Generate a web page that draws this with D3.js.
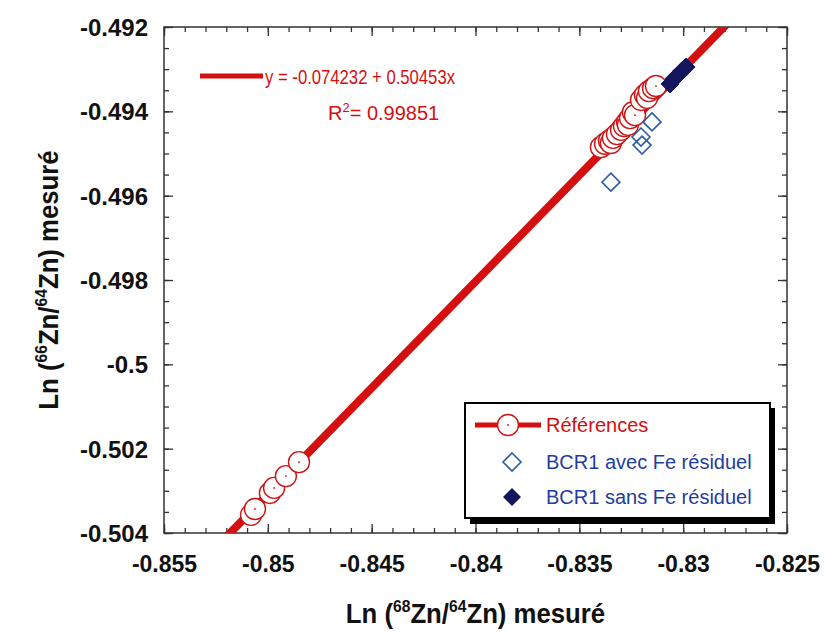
<!DOCTYPE html>
<html><head><meta charset="utf-8">
<script src="https://cdn.jsdelivr.net/npm/d3@7"></script>
<style>html,body{margin:0;padding:0;background:#fff}svg{display:block}text{font-family:"Liberation Sans",Arial,sans-serif}</style>
</head><body>
<script>
// ---- data ----
const refX = [-0.85081,-0.85062,-0.84990,-0.84970,-0.84913,-0.84850,
  -0.83396,-0.83376,-0.83357,-0.83348,-0.83338,-0.83319,-0.83299,-0.83285,-0.83270,-0.83266,-0.83256,-0.83242,-0.83232,-0.83203,-0.83184,-0.83174,-0.83165,-0.83145,-0.83131];
const refY = [-0.50357,-0.50343,-0.50305,-0.50293,-0.50265,-0.50232,
  -0.49485,-0.49477,-0.49470,-0.49475,-0.49463,-0.49454,-0.49444,-0.49435,-0.49425,-0.49432,-0.49416,-0.49402,-0.49409,-0.49373,-0.49361,-0.49368,-0.49352,-0.49345,-0.49340];
const bcrFeX = [-0.83150,-0.83203,-0.83198,-0.83348];
const bcrFeY = [-0.49425,-0.49461,-0.49480,-0.49568];
const bcrNoFeX = [-0.83063,-0.83044,-0.83025,-0.83006,-0.82986];
const bcrNoFeY = [-0.49335,-0.49323,-0.49314,-0.49304,-0.49295];
const fitIntercept = -0.074232, fitSlope = 0.50453;
const xTicks = [-0.855,-0.85,-0.845,-0.84,-0.835,-0.83,-0.825];
const xTickLabels = ["-0.855","-0.85","-0.845","-0.84","-0.835","-0.83","-0.825"];
const yTicks = [-0.492,-0.494,-0.496,-0.498,-0.5,-0.502,-0.504];
const yTickLabels = ["-0.492","-0.494","-0.496","-0.498","-0.5","-0.502","-0.504"];
const xMinor = d3.range(0,31).map(i => -0.855 + i*0.001);
const yMinor = d3.range(0,25).map(i => -0.504 + i*0.0005);
const legendLabels = ["Références","BCR1 avec Fe résiduel","BCR1 sans Fe résiduel"];

// ---- layout ----
const W = 827, H = 639;
const L = 164, R = 787, T = 27, B = 533;
const RED = "#d40f0f", CIRC = "#cc1616", BLUE = "#2d5cab", NAVY = "#15175e", TXTBLUE = "#1f3d9e";

const svg = d3.select("body").append("svg").attr("width", W).attr("height", H);
const x = d3.scaleLinear().domain([-0.855,-0.825]).range([L,R]);
const y = d3.scaleLinear().domain([-0.504,-0.492]).range([B,T]);

svg.append("clipPath").attr("id","plotclip").append("rect")
  .attr("x",L).attr("y",T).attr("width",R-L).attr("height",B-T);

// axes (ticks inward on all sides)
function styleAxis(g){ g.select(".domain").remove(); g.selectAll(".tick line").attr("stroke","#333").attr("stroke-width",1.3); }
const yfmt = d => yTickLabels[yTicks.indexOf(d)];
const xfmt = d => xTickLabels[xTicks.indexOf(d)];
svg.append("g").attr("transform",`translate(0,${B})`).call(d3.axisBottom(x).tickValues(xMinor).tickSize(-5).tickFormat("")).call(styleAxis);
svg.append("g").attr("transform",`translate(0,${T})`).call(d3.axisTop(x).tickValues(xMinor).tickSize(-5).tickFormat("")).call(styleAxis);
svg.append("g").attr("transform",`translate(${L},0)`).call(d3.axisLeft(y).tickValues(yMinor).tickSize(-5).tickFormat("")).call(styleAxis);
svg.append("g").attr("transform",`translate(${R},0)`).call(d3.axisRight(y).tickValues(yMinor).tickSize(-5).tickFormat("")).call(styleAxis);
const xb = svg.append("g").attr("transform",`translate(0,${B})`).call(d3.axisBottom(x).tickValues(xTicks).tickSize(-9).tickFormat(xfmt)).call(styleAxis);
xb.selectAll("text").attr("y",39).attr("dy",null).attr("fill","#111").attr("font-size",23).attr("font-weight","bold").attr("font-family","Liberation Sans, Arial");
svg.append("g").attr("transform",`translate(0,${T})`).call(d3.axisTop(x).tickValues(xTicks).tickSize(-9).tickFormat("")).call(styleAxis);
const yl = svg.append("g").attr("transform",`translate(${L},0)`).call(d3.axisLeft(y).tickValues(yTicks).tickSize(-9).tickFormat(yfmt)).call(styleAxis);
yl.selectAll("text").attr("x",-16).attr("dy","0.35em").attr("fill","#111").attr("font-size",24).attr("font-weight","bold").attr("font-family","Liberation Sans, Arial");
svg.append("g").attr("transform",`translate(${R},0)`).call(d3.axisRight(y).tickValues(yTicks).tickSize(-9).tickFormat("")).call(styleAxis);

// frame
svg.append("rect").attr("x",L).attr("y",T).attr("width",R-L).attr("height",B-T)
  .attr("fill","none").attr("stroke","#333").attr("stroke-width",1.5);

// regression line
const plot = svg.append("g").attr("clip-path","url(#plotclip)");
const fitXs = [-0.855,-0.825];
plot.append("line")
  .attr("x1",x(fitXs[0])).attr("y1",y(fitIntercept+fitSlope*fitXs[0]))
  .attr("x2",x(fitXs[1])).attr("y2",y(fitIntercept+fitSlope*fitXs[1]))
  .attr("stroke",RED).attr("stroke-width",8);

// reference circles
const refs = refX.map((v,i)=>({x:v,y:refY[i]}));
const cg = plot.append("g");
refs.forEach(d=>{
  cg.append("circle").attr("cx",x(d.x)).attr("cy",y(d.y)).attr("r",10.5)
    .attr("fill","#fff").attr("stroke",CIRC).attr("stroke-width",1.4);
  cg.append("circle").attr("cx",x(d.x)).attr("cy",y(d.y)).attr("r",0.9).attr("fill",CIRC);
});

const dia = s => `M0,${-s}L${s},0L0,${s}L${-s},0Z`;
bcrFeX.forEach((v,i)=>{
  plot.append("path").attr("d",dia(9)).attr("transform",`translate(${x(v)},${y(bcrFeY[i])})`)
    .attr("fill","none").attr("stroke",BLUE).attr("stroke-width",1.6);
});
bcrNoFeX.forEach((v,i)=>{
  plot.append("path").attr("d",dia(9)).attr("transform",`translate(${x(v)},${y(bcrNoFeY[i])})`)
    .attr("fill",NAVY).attr("stroke",NAVY).attr("stroke-width",1);
});

// equation
svg.append("line").attr("x1",200).attr("x2",263).attr("y1",76).attr("y2",76).attr("stroke",RED).attr("stroke-width",5);
svg.append("text").attr("x",265).attr("y",84).attr("font-size",21).attr("fill",RED)
  .attr("textLength",190).attr("lengthAdjust","spacingAndGlyphs")
  .text(`y = ${fitIntercept} + ${fitSlope}x`);
const r2 = svg.append("text").attr("x",328).attr("y",120).attr("font-size",20).attr("fill",RED);
r2.append("tspan").text("R");
r2.append("tspan").attr("font-size",13).attr("dy",-8).text("2");
r2.append("tspan").attr("dy",8).text("= 0.99851");

// legend
svg.append("rect").attr("x",470).attr("y",408).attr("width",305).attr("height",116).attr("fill","#000");
svg.append("rect").attr("x",465).attr("y",403).attr("width",305).attr("height",115).attr("fill","#fff").attr("stroke","#000").attr("stroke-width",2);
svg.append("line").attr("x1",475).attr("x2",541).attr("y1",425).attr("y2",425).attr("stroke",RED).attr("stroke-width",5);
svg.append("circle").attr("cx",508).attr("cy",425).attr("r",10.5).attr("fill","#fff").attr("stroke",CIRC).attr("stroke-width",1.4);
svg.append("circle").attr("cx",508).attr("cy",425).attr("r",0.9).attr("fill",CIRC);
svg.append("path").attr("d",dia(9)).attr("transform","translate(512,462)").attr("fill","none").attr("stroke",BLUE).attr("stroke-width",1.6);
svg.append("path").attr("d",dia(9)).attr("transform","translate(512,497)").attr("fill",NAVY);
const legY = [425,462,497];
legendLabels.forEach((t,i)=>{
  svg.append("text").attr("x",546).attr("y",legY[i]+7).attr("font-size",20)
    .attr("fill", i===0 ? RED : TXTBLUE).text(t);
});

// axis titles
function title(g, a, b){
  const t = g.append("text").attr("text-anchor","middle")
    .attr("font-size",28).attr("font-weight","bold").attr("fill","#111");
  t.append("tspan").text("Ln (");
  t.append("tspan").attr("font-size",17).attr("dy",-11).text(a);
  t.append("tspan").attr("dy",11).text("Zn/");
  t.append("tspan").attr("font-size",17).attr("dy",-11).text(b);
  t.append("tspan").attr("dy",11).text("Zn) mesuré");
}
title(svg.append("g").attr("transform",`translate(${(L+R)/2},623) scale(0.92,1)`), "68", "64");
title(svg.append("g").attr("transform",`translate(58,${(T+B)/2}) rotate(-90) scale(0.92,1)`), "66", "64");
</script>
</body></html>
